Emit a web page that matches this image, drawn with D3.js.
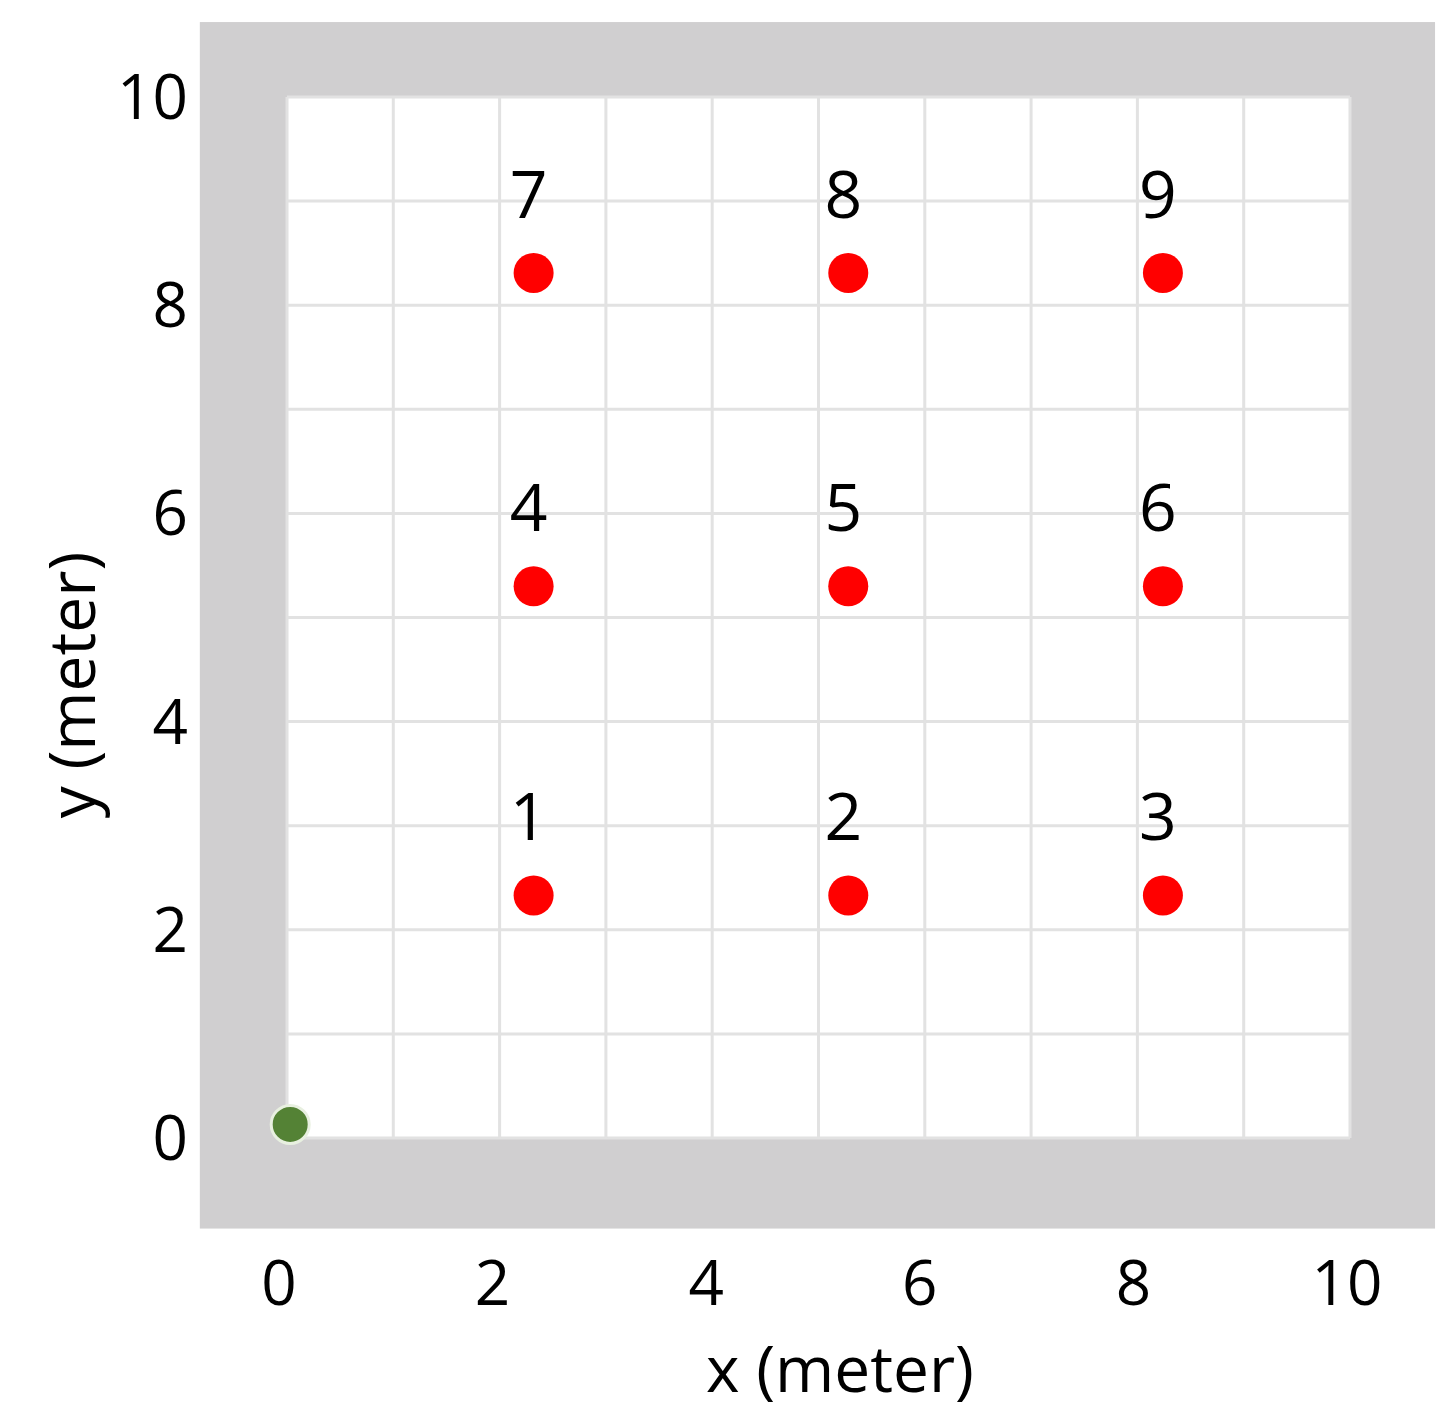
<!DOCTYPE html>
<html><head><meta charset="utf-8">
<script src="https://cdn.jsdelivr.net/npm/d3@7"></script>
<style>body{margin:0;background:#fff}text{font-family:"Open Sans",sans-serif;fill:#000}</style>
</head><body>
<svg id="c" width="1452" height="1428"></svg>
<script>
var ticks = [0, 2, 4, 6, 8, 10]
var pointIds = [1, 2, 3, 4, 5, 6, 7, 8, 9]
var pointX = [2.32, 5.28, 8.24, 2.32, 5.28, 8.24, 2.32, 5.28, 8.24]
var pointY = [2.33, 2.33, 2.33, 5.30, 5.30, 5.30, 8.31, 8.31, 8.31]
var start = [0.03, 0.13]

var svg = d3.select('#c')
var x = d3.scaleLinear().domain([0, 10]).range([287, 1350])
var y = d3.scaleLinear().domain([0, 10]).range([1138, 97])

// gray frame
svg.append('rect').attr('x', x(-0.82)).attr('y', y(10.72))
    .attr('width', x(10.8) - x(-0.82)).attr('height', y(-0.87) - y(10.72))
    .attr('fill', '#d0cfd0')
svg.append('rect').attr('x', x(0)).attr('y', y(10))
    .attr('width', x(10) - x(0)).attr('height', y(0) - y(10))
    .attr('fill', '#fff')

// grid every meter
var g = svg.append('g').attr('stroke', '#e2e2e2').attr('stroke-width', 3)
d3.range(0, 11).forEach(function (v) {
    g.append('line').attr('x1', x(v)).attr('x2', x(v)).attr('y1', y(0)).attr('y2', y(10))
    g.append('line').attr('y1', y(v)).attr('y2', y(v)).attr('x1', x(0)).attr('x2', x(10))
})

// tick labels
svg.selectAll('.xt').data(ticks).enter().append('text')
    .attr('x', function (d) { return x(d) - 8 + d * 0.5 })
    .attr('y', 1305).attr('text-anchor', 'middle').attr('font-size', 62)
    .text(function (d) { return d })
svg.selectAll('.yt').data(ticks).enter().append('text')
    .attr('x', 188).attr('y', function (d) { return y(d) + 22 })
    .attr('text-anchor', 'end').attr('font-size', 62)
    .text(function (d) { return d })

svg.append('text').attr('x', 840).attr('y', 1392).attr('text-anchor', 'middle')
    .attr('font-size', 64).text('x (meter)')
svg.append('text').attr('transform', 'translate(95,685) rotate(-90)')
    .attr('text-anchor', 'middle').attr('font-size', 64).text('y (meter)')

// points
svg.selectAll('.p').data(pointIds).enter().append('circle')
    .attr('cx', function (d, i) { return x(pointX[i]) })
    .attr('cy', function (d, i) { return y(pointY[i]) })
    .attr('r', 20).attr('fill', '#ff0000')
svg.selectAll('.pl').data(pointIds).enter().append('text')
    .attr('x', function (d, i) { return x(pointX[i]) - 5 })
    .attr('y', function (d, i) { return y(pointY[i]) - 55 })
    .attr('text-anchor', 'middle').attr('font-size', 66)
    .text(function (d) { return d })

svg.append('circle').attr('cx', x(start[0])).attr('cy', y(start[1])).attr('r', 19)
    .attr('fill', '#548235').attr('stroke', '#e8f0e0').attr('stroke-width', 3)
</script>
</body></html>
